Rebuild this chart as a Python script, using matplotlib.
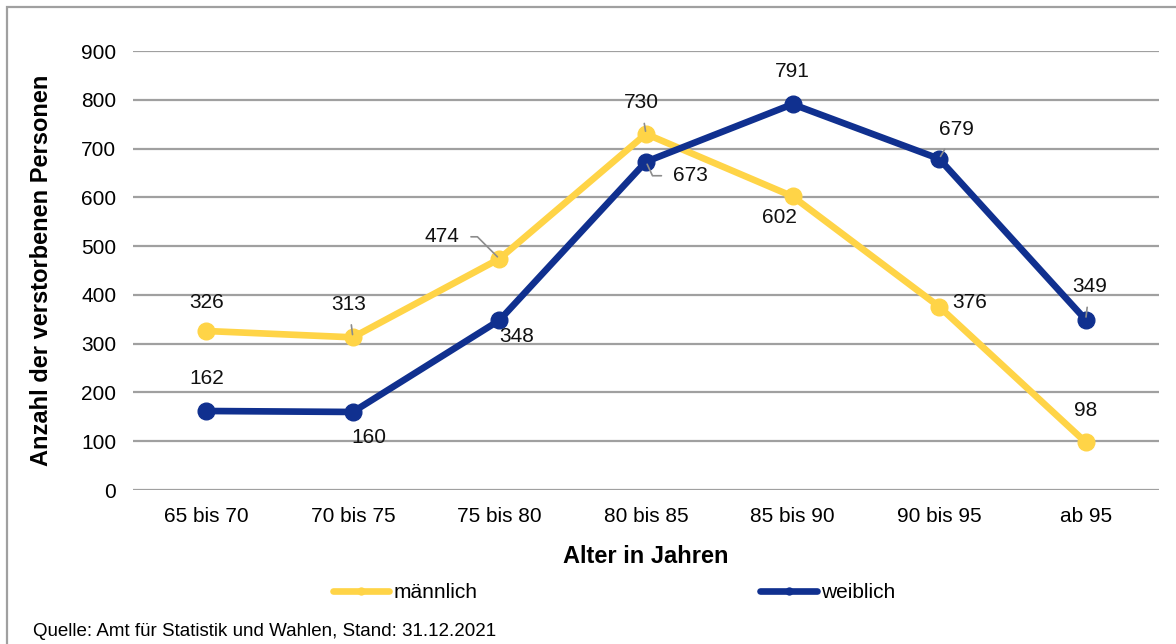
import matplotlib.pyplot as plt
from matplotlib.lines import Line2D
from matplotlib.patches import Rectangle

plt.rcParams['font.family'] = ['Liberation Sans', 'DejaVu Sans']

kategorien = ['65 bis 70', '70 bis 75', '75 bis 80', '80 bis 85', '85 bis 90', '90 bis 95', 'ab 95']
maennlich = [326, 313, 474, 730, 602, 376, 98]
weiblich = [162, 160, 348, 673, 791, 679, 349]

gelb = '#FFD447'
blau = '#10308F'
grau = '#A0A0A0'

fig = plt.figure(figsize=(11.76, 6.44), dpi=100)
ax = fig.add_axes([0.1131, 0.2391, 0.8724, 0.6817])

x = list(range(len(kategorien)))
ax.plot(x, maennlich, color=gelb, lw=4.8, marker='o', ms=12, solid_joinstyle='round', zorder=3)
ax.plot(x, weiblich, color=blau, lw=4.8, marker='o', ms=12, solid_joinstyle='round', zorder=4)

ax.set_xlim(-0.5, 6.5)
ax.set_ylim(0, 900)
ax.set_yticks(range(0, 901, 100))
ax.set_xticks(x)
ax.set_xticklabels(kategorien)
ax.tick_params(length=0, labelsize=15)
ax.tick_params(axis='y', pad=12)
ax.tick_params(axis='x', pad=12)
ax.grid(axis='y', color=grau, lw=1.6)
ax.set_axisbelow(True)
for s in ax.spines.values():
    s.set_visible(False)

ax.set_xlabel('Alter in Jahren', fontsize=17, fontweight='bold')
ax.set_ylabel('Anzahl der verstorbenen Personen', fontsize=17, fontweight='bold')
ax.xaxis.set_label_coords(0.5, -0.125)
ax.yaxis.set_label_coords(-0.078, 0.5)

# Datenbeschriftungen: (Versatz in Pixeln, Verbindungsstil oder None)
pos_m = [((0, 28), None), ((-4, 33), 'arc3'), ((-57, 22), 'angle,angleA=0,angleB=135,rad=0'),
         ((-5, 31), 'arc3'), ((-13, -21), None), ((31, 4), None), ((0, 32), None)]
pos_w = [((0, 32), None), ((16, -26), None), ((17, -16), None),
         ((44, -14), 'angle,angleA=0,angleB=-65,rad=0'), ((0, 33), None),
         ((17, 29), 'arc3'), ((4, 33), 'arc3')]

for werte, pos in [(maennlich, pos_m), (weiblich, pos_w)]:
    for i, v in enumerate(werte):
        off, conn = pos[i]
        arrow = None
        if conn is not None:
            arrow = dict(arrowstyle='-', color='#8C8C8C', lw=1.2, shrinkA=6, shrinkB=2,
                         connectionstyle=conn)
        ax.annotate(str(v), (i, v), xytext=off, textcoords='offset pixels',
                    ha='center', va='center', fontsize=15, color='#111111',
                    arrowprops=arrow, zorder=6)

handles = [Line2D([], [], color=gelb, lw=4.8, marker='o', ms=5, solid_capstyle='round'),
           Line2D([], [], color=blau, lw=4.8, marker='o', ms=5, solid_capstyle='round')]
fig.legend(handles, ['männlich', 'weiblich'], loc='center', bbox_to_anchor=(0.522, 1 - 593 / 644),
           ncol=2, frameon=False, fontsize=15, handlelength=2.7, handletextpad=0.2,
           columnspacing=13.6)

fig.text(33 / 1176, 1 - 632 / 644, 'Quelle: Amt für Statistik und Wahlen, Stand: 31.12.2021',
         fontsize=13.5, va='center', ha='left')

rahmen = Rectangle((7 / 1176, -0.05), 1.2, (644 - 7) / 644 + 0.05, transform=fig.transFigure,
                   fill=False, edgecolor=grau, lw=1.6, clip_on=False)
fig.patches.append(rahmen)

fig.savefig('out.png', dpi=100)
